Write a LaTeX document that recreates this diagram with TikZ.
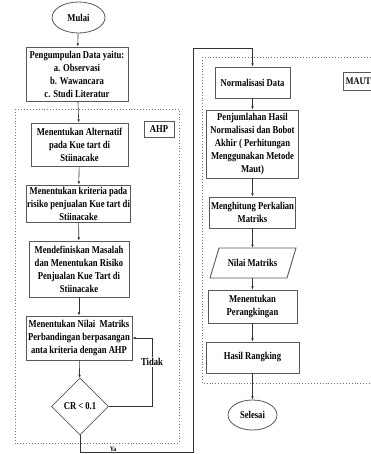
\documentclass[tikz,border=0pt]{standalone}
\usepackage{fontspec}
\setmainfont{Liberation Serif}[FakeStretch=0.82]
\usetikzlibrary{arrows.meta,shapes.geometric,positioning}
\begin{document}
\begin{tikzpicture}[x=1pt,y=-1pt,
  every node/.style={font=\fontsize{10.5}{13}\selectfont\bfseries},
  box/.style={draw=black!65, line width=0.9pt, fill=white, align=center, inner sep=1pt},
  term/.style={ellipse, draw=black!65, line width=0.8pt, fill=white, inner sep=0pt},
  dec/.style={diamond, draw=black!65, line width=0.8pt, fill=white, inner sep=0pt, aspect=1},
  frame/.style={draw=black!55, line width=0.8pt, dash pattern=on 0.9pt off 2pt},
  tag/.style={draw=black!65, line width=0.8pt, fill=white, inner sep=0pt},
  conn/.style={draw=black!80, line width=0.6pt, -{Latex[length=3.2pt,width=2.6pt]}},
  line/.style={draw=black!80, line width=0.6pt}]
\useasboundingbox (0,0) rectangle (371,454);
\clip (0,0) rectangle (371,454);
\fill[white] (0,0) rectangle (371,454);
% frames
\draw[frame] (15,109) rectangle (179,443);
\draw[frame] (202,57) rectangle (378,383);
\node[tag, minimum width=30pt, minimum height=16pt] (ahp) at (159,129) {AHP};
\node[tag, anchor=west, minimum height=18pt, inner xsep=2.5pt, font=\fontsize{10}{12}\selectfont\bfseries] (maut) at (343,81) {MAUT\hspace{6pt}};
% AHP column
\node[term, minimum width=53pt, minimum height=31pt] (start) at (78.5,17.5) {Mulai};
\node[box, minimum width=102pt, minimum height=54pt] (data) at (77,74) {Pengumpulan Data yaitu:\\a. Observasi\\b. Wawancara\\c. Studi Literatur};
\node[box, minimum width=97pt, minimum height=43pt] (b1) at (79.5,144.5) {Menentukan Alternatif\\pada Kue tart di\\Stiinacake};
\node[box, minimum width=103pt, minimum height=37pt] (b2) at (78.5,203.5) {Menentukan kriteria pada\\risiko penjualan Kue tart di\\Stiinacake};
\node[box, minimum width=100pt, minimum height=56pt] (b3) at (79,269) {Mendefiniskan Masalah\\dan Menentukan Risiko\\Penjualan Kue Tart di\\Stiinacake};
\node[box, minimum width=106pt, minimum height=44pt] (b4) at (79,338) {Menentukan Nilai\ \ Matriks\\Perbandingan berpasangan\\anta kriteria dengan AHP};
\node[dec, minimum width=57pt, minimum height=57pt] (cr) at (80,406.5) {CR < 0.1};
\coordinate (loopa) at (152,406.5);
\coordinate (loopb) at (152,338);
\coordinate (ya1) at (80,452.5);
\coordinate (ya2) at (193,452.5);
\coordinate (ya3) at (193,48);
\coordinate (ya4) at (252.5,48);
% MAUT column
\node[box, minimum width=75pt, minimum height=31pt] (norm) at (252.5,82.5) {Normalisasi Data};
\node[box, minimum width=92pt, minimum height=68pt] (pj) at (252.5,144) {Penjumlahan Hasil\\Normalisasi dan Bobot\\Akhir ( Perhitungan\\Menggunakan Metode\\Maut)};
\node[box, minimum width=86pt, minimum height=31pt] (mh) at (252.5,212.5) {Menghitung Perkalian\\Matriks};
\draw[draw=black!65, line width=0.9pt, fill=white] (210,278) -- (287,278) -- (296,248) -- (219,248) -- cycle;
\node[inner sep=0pt, minimum width=77pt, minimum height=30pt, align=center] (nm) at (252.5,263) {Nilai Matriks};
\node[box, minimum width=89pt, minimum height=33pt] (mp) at (252.5,306.5) {Menentukan\\Perangkingan};
\node[box, minimum width=93pt, minimum height=31pt] (hr) at (252.5,357.5) {Hasil Rangking};
\node[term, minimum width=49pt, minimum height=30pt] (end) at (252.5,415) {Selesai};
% connectors
\draw[conn] (start) -- (data);
\draw[conn] (data) -- (b1);
\draw[conn] (b1) -- (b2);
\draw[conn] (b2) -- (b3);
\draw[conn] (b3) -- (b4);
\draw[conn] (b4) -- (cr);
\draw[conn] (cr.east) -- (loopa) -- (loopb) -- (b4.east);
\node[fill=white, inner sep=1pt] (tidak) at (152,362) {Tidak};
\draw[conn] (cr.south) -- (ya1) -- (ya2) -- (ya3) -- (ya4) -- (norm.north);
\node[anchor=south, inner sep=0.5pt, font=\fontsize{7}{8}\selectfont\bfseries] (ya) at (113,452.2) {Ya};
\draw[conn] (norm) -- (pj);
\draw[conn] (pj) -- (mh);
\draw[conn] (mh) -- (nm);
\draw[conn] (nm) -- (mp);
\draw[conn] (mp) -- (hr);
\draw[conn] (hr) -- (end);
\end{tikzpicture}
\end{document}
